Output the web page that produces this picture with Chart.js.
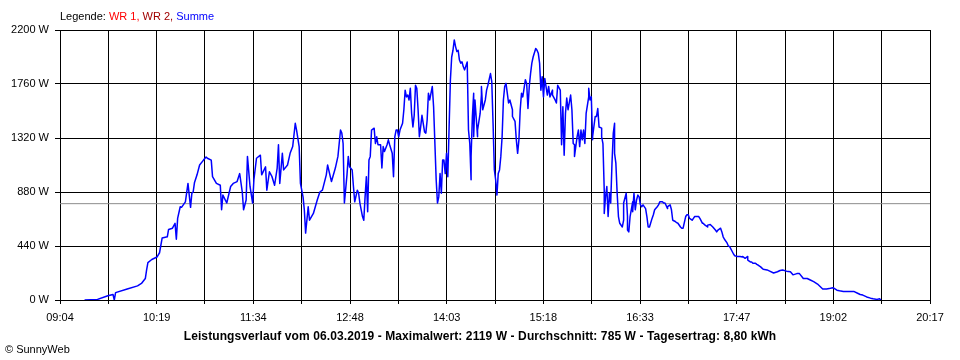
<!DOCTYPE html>
<html>
<head>
<meta charset="utf-8">
<script src="https://cdn.jsdelivr.net/npm/chart.js@4.4.1/dist/chart.umd.min.js"></script>
<style>
  body { margin: 0; background: #fff; }
  #wrap { position: relative; width: 960px; height: 360px; font-family: "Liberation Sans", Arial, sans-serif; }
  #legende { position: absolute; left: 60px; top: 10px; font-size: 11px; line-height: 13px; color: #000; white-space: nowrap; }
  #titel { position: absolute; left: 0; width: 960px; top: 329px; text-align: center; font-size: 12px; line-height: 14px; font-weight: bold; color: #000; white-space: nowrap; letter-spacing: 0.1px; }
  #copy { position: absolute; left: 5px; top: 343px; font-size: 11px; line-height: 13px; color: #000; white-space: nowrap; }
</style>
</head>
<body>
<div id="wrap">
  <canvas id="chart"></canvas>
  <div id="legende">Legende: <span style="color:#ff0000">WR 1,</span> <span style="color:#a00000">WR 2,</span> <span style="color:#0000ff">Summe</span></div>
  <div id="titel">Leistungsverlauf vom 06.03.2019 - Maximalwert: 2119 W - Durchschnitt: 785 W - Tagesertrag: 8,80 kWh</div>
  <div id="copy">&copy; SunnyWeb</div>
</div>
<script>
// Uhrzeit in Minuten seit Mitternacht
const zeitMin = [
  563, 573, 581, 585, 586, 587, 596, 604, 607, 610, 611, 612, 615, 619, 621, 623, 627, 628, 631, 633,
  634, 635, 637, 638, 641, 643, 645, 646, 647, 648, 650, 652, 655, 657, 658, 661, 662, 665, 668, 669,
  670, 673, 676, 678, 681, 683, 685, 686, 688, 689, 691, 693, 694, 696, 699, 700, 703, 704, 706, 708,
  710, 712, 713, 714, 716, 717, 720, 722, 724, 726, 727, 729, 730, 732, 733, 734, 736, 737, 740, 743,
  745, 747, 750, 751, 754, 757, 759, 761, 762, 763, 764, 766, 767, 768, 770, 771, 772, 774, 775, 776,
  778, 779, 780, 781, 782, 783, 784, 785, 787, 788, 789, 790, 792, 793, 794, 795, 797, 798, 799, 801,
  802, 803, 804, 805, 806, 807, 809, 810, 811, 812, 813, 814, 815, 816, 817, 818, 819, 820, 821, 822,
  823, 824, 826, 827, 828, 829, 830, 832, 833, 835, 836, 837, 838, 839, 840, 841, 842, 843, 844, 845,
  846, 847, 848, 849, 850, 851, 852, 853, 854, 855, 856, 857, 859, 860, 861, 862, 862, 863, 864, 864,
  865, 867, 867, 869, 870, 870, 871, 873, 874, 875, 877, 878, 879, 880, 881, 882, 883, 884, 885, 886,
  887, 888, 889, 890, 891, 892, 894, 894, 896, 897, 898, 899, 900, 901, 902, 904, 905, 906, 907, 908,
  909, 910, 912, 913, 914, 915, 916, 917, 918, 919, 921, 922, 923, 925, 925, 927, 928, 929, 931, 932,
  933, 934, 935, 936, 937, 939, 940, 941, 942, 942, 944, 945, 946, 947, 948, 949, 950, 951, 953, 953,
  954, 955, 956, 956, 958, 959, 960, 961, 963, 963, 964, 965, 965, 966, 967, 968, 969, 970, 971, 972,
  973, 973, 974, 975, 976, 977, 979, 980, 980, 982, 983, 983, 984, 985, 987, 987, 988, 989, 990, 991,
  992, 993, 994, 995, 997, 998, 999, 1000, 1002, 1003, 1004, 1006, 1007, 1008, 1010, 1011, 1012, 1014, 1014, 1016,
  1017, 1018, 1020, 1021, 1022, 1024, 1025, 1026, 1028, 1029, 1030, 1031, 1033, 1034, 1035, 1038, 1039, 1041, 1041, 1043,
  1045, 1045, 1047, 1048, 1049, 1051, 1052, 1053, 1055, 1056, 1057, 1058, 1060, 1061, 1062, 1064, 1065, 1066, 1068, 1069,
  1070, 1072, 1072, 1074, 1076, 1076, 1078, 1079, 1080, 1082, 1083, 1084, 1086, 1087, 1088, 1091, 1093, 1096, 1099, 1101,
  1103, 1106, 1109, 1111, 1114, 1116, 1119, 1122, 1124, 1127, 1130, 1132, 1134, 1137, 1140, 1142, 1145, 1147, 1150, 1153,
  1155, 1158, 1161, 1163, 1165, 1168, 1171, 1173, 1176, 1178, 1179
];

// Leistung Summe in W
const watt = [
  0, 5, 35, 45, 0, 60, 90, 115, 135, 175, 245, 305, 330, 350, 385, 505, 515, 575, 585, 625,
  495, 665, 760, 755, 800, 950, 755, 870, 880, 955, 1020, 1100, 1140, 1165, 1155, 1140, 1005, 950, 935, 735,
  855, 790, 925, 950, 965, 1030, 880, 735, 815, 1170, 925, 790, 980, 1155, 1180, 1020, 1085, 895, 1045, 1005,
  935, 1075, 1265, 950, 1195, 1060, 1100, 1195, 1250, 1440, 1385, 1250, 950, 840, 735, 545, 760, 650, 705, 815,
  880, 895, 1020, 1100, 965, 1075, 1170, 1385, 1360, 1275, 790, 1020, 1170, 1085, 1060, 925, 800, 895, 870, 790,
  680, 650, 840, 1005, 720, 1140, 1170, 1385, 1400, 1275, 1330, 1265, 1265, 1075, 1250, 1210, 1265, 1305, 1265, 1195,
  1005, 1330, 1385, 1385, 1330, 1385, 1440, 1550, 1710, 1655, 1670, 1630, 1725, 1520, 1410, 1505, 1750, 1725, 1550, 1330,
  1410, 1505, 1370, 1360, 1465, 1685, 1630, 1740, 1575, 980, 790, 840, 1030, 870, 1140, 1140, 1030, 1195, 1005, 1410,
  1795, 1980, 2035, 2119, 2065, 2025, 2035, 1955, 1930, 1940, 1900, 1875, 1940, 1385, 1275, 980, 1170, 1495, 1685, 1330,
  1630, 1330, 1385, 1520, 1670, 1740, 1550, 1630, 1710, 1750, 1845, 1780, 1440, 1060, 980, 855, 1030, 1060, 1170, 1330,
  1630, 1740, 1765, 1685, 1605, 1630, 1550, 1495, 1455, 1305, 1195, 1305, 1550, 1685, 1655, 1795, 1765, 1560, 1740, 1845,
  1930, 1980, 2050, 2035, 2010, 1930, 1710, 1820, 1655, 1805, 1670, 1740, 1655, 1710, 1670, 1630, 1605, 1750, 1710, 1265,
  1575, 1180, 1520, 1645, 1550, 1670, 1550, 1275, 1265, 1170, 1330, 1385, 1250, 1385, 1305, 1385, 1275, 1520, 1655, 1725,
  1630, 1655, 1305, 1330, 1495, 1495, 1560, 1410, 1400, 1330, 1275, 895, 705, 840, 925, 680, 870, 790, 1115, 1360,
  1440, 1195, 1115, 870, 680, 625, 595, 650, 790, 870, 680, 570, 555, 680, 800, 720, 870, 735, 815, 855,
  840, 775, 760, 775, 745, 680, 595, 595, 665, 695, 735, 760, 775, 800, 800, 790, 790, 745, 760, 775,
  735, 650, 640, 630, 625, 595, 585, 585, 680, 695, 695, 665, 650, 665, 680, 680, 665, 625, 630, 610,
  595, 610, 615, 605, 595, 570, 555, 570, 585, 555, 515, 495, 465, 440, 435, 395, 375, 360, 355, 355,
  355, 350, 355, 340, 355, 325, 310, 310, 300, 300, 290, 285, 270, 260, 250, 245, 235, 220, 230, 240,
  245, 235, 230, 205, 215, 215, 175, 175, 165, 150, 130, 110, 90, 90, 95, 100, 80, 75, 70, 70,
  70, 70, 55, 45, 40, 25, 15, 10, 5, 10, 0
];

// Achsenbeschriftung (jede zweite Gitterlinie)
const tickLabels = ['09:04', '10:19', '11:34', '12:48', '14:03', '15:18', '16:33', '17:47', '19:02', '20:17'];
const yTicks = [0, 440, 880, 1320, 1760, 2200];
const durchschnitt = 785;

const startMin = 544;   // 09:04
const endMin = 1217;    // 20:17
const gitterAnzahl = 18;

const punkte = zeitMin.map((t, i) => ({ x: t, y: watt[i] }));

const ctx = document.getElementById('chart').getContext('2d');
const chart = new Chart(ctx, {
  type: 'line',
  data: {
    datasets: [
      {
        label: 'Summe',
        data: punkte,
        borderColor: '#0000ff',
        borderWidth: 1.5,
        borderJoinStyle: 'round',
        pointRadius: 0,
        tension: 0,
        fill: false
      },
      {
        label: 'Durchschnitt',
        data: [{ x: startMin, y: durchschnitt }, { x: endMin, y: durchschnitt }],
        borderColor: '#8c8c8c',
        borderWidth: 1,
        pointRadius: 0,
        fill: false
      }
    ]
  },
  options: {
    responsive: true,
    maintainAspectRatio: false,
    animation: false,
    layout: { padding: { top: 30, right: 30, left: 0, bottom: 0 } },
    plugins: {
      legend: { display: false },
      tooltip: { enabled: false }
    },
    scales: {
      x: {
        type: 'linear',
        min: startMin,
        max: endMin,
        afterBuildTicks: (scale) => {
          const t = [];
          for (let i = 0; i <= gitterAnzahl; i++) {
            t.push({ value: startMin + i * (endMin - startMin) / gitterAnzahl });
          }
          scale.ticks = t;
        },
        afterFit: (scale) => { scale.height = 60; },
        ticks: {
          autoSkip: false,
          maxRotation: 0,
          padding: 7,
          color: '#000',
          font: { family: '"Liberation Sans", Arial, sans-serif', size: 11 },
          callback: (value, index) => (index % 2 === 0 ? tickLabels[index / 2] : '')
        },
        grid: { color: '#000', lineWidth: 1, tickLength: 4 },
        border: { color: '#000', width: 1 }
      },
      y: {
        min: 0,
        max: 2200,
        afterBuildTicks: (scale) => { scale.ticks = yTicks.map(v => ({ value: v })); },
        afterFit: (scale) => { scale.width = 60; },
        ticks: {
          padding: 6,
          color: '#000',
          font: { family: '"Liberation Sans", Arial, sans-serif', size: 11 },
          callback: (value) => value + ' W'
        },
        grid: { color: '#000', lineWidth: 1, tickLength: 5 },
        border: { color: '#000', width: 1 }
      }
    }
  }
});
</script>
</body>
</html>
